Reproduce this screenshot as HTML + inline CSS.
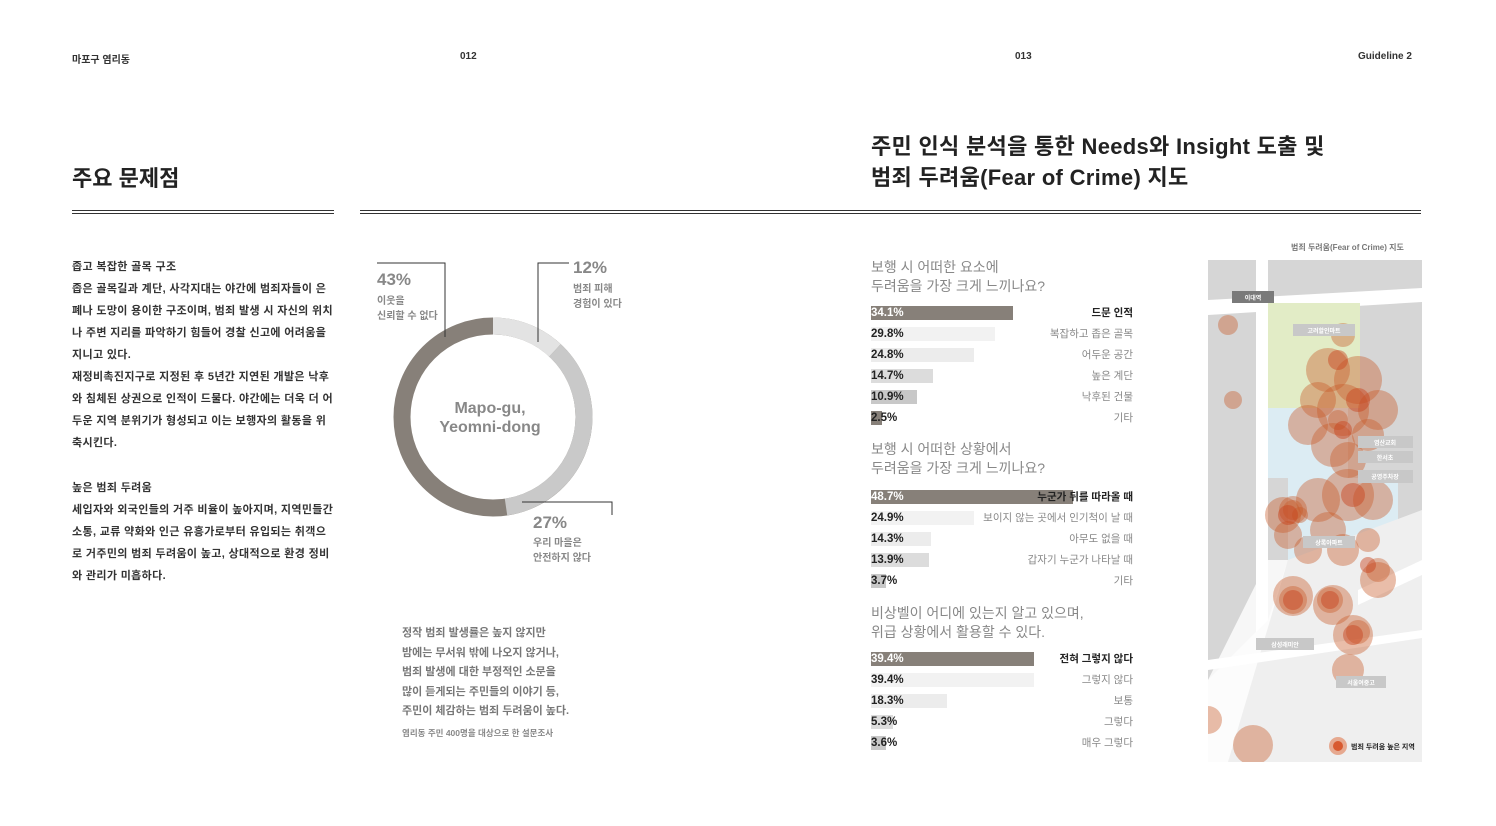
<!DOCTYPE html>
<html><head><meta charset="utf-8"><style>
body{margin:0;width:1496px;height:826px;background:#fff;position:relative;overflow:hidden;font-family:"Liberation Sans","Noto Sans CJK KR",sans-serif;color:#222}
.a{position:absolute;white-space:nowrap}
.hd{font-size:10px;font-weight:bold;color:#333}
.t1{font-size:22px;font-weight:bold;color:#222;line-height:31px}
.body{font-size:11px;font-weight:bold;line-height:22px;color:#333;letter-spacing:0.35px}
.q{font-size:14px;color:#888;line-height:19px}
.row{position:absolute;left:871px;width:262px;height:14px}
.row .b{position:absolute;left:0;top:0;height:14px}
.row .p{position:absolute;left:0;top:0;line-height:14px;font-size:11.5px;font-weight:bold;color:#222}
.row .l{position:absolute;right:0;top:0;line-height:14px;font-size:10.5px;color:#888}
</style></head><body>
<div class="a hd" style="left:72px;top:51px">마포구 염리동</div>
<div class="a hd" style="left:460px;top:51px">012</div>
<div class="a hd" style="left:1015px;top:51px">013</div>
<div class="a hd" style="left:1358px;top:51px">Guideline 2</div>

<div class="a t1" style="left:72px;top:163px">주요 문제점</div>
<div class="a t1" style="left:871px;top:131px;letter-spacing:0.3px">주민 인식 분석을 통한 Needs와 Insight 도출 및<br>범죄 두려움(Fear of Crime) 지도</div>

<div class="a" style="left:72px;top:210px;width:262px;height:1px;background:#333"></div>
<div class="a" style="left:72px;top:213px;width:262px;height:1px;background:#333"></div>
<div class="a" style="left:360px;top:210px;width:1061px;height:1px;background:#333"></div>
<div class="a" style="left:360px;top:213px;width:1061px;height:1px;background:#333"></div>

<div class="a body" style="left:72px;top:256px;width:262px;white-space:normal">좁고 복잡한 골목 구조<br>좁은 골목길과 계단, 사각지대는 야간에 범죄자들이 은폐나 도망이 용이한 구조이며, 범죄 발생 시 자신의 위치나 주변 지리를 파악하기 힘들어 경찰 신고에 어려움을 지니고 있다.<br>재정비촉진지구로 지정된 후 5년간 지연된 개발은 낙후와 침체된 상권으로 인적이 드물다. 야간에는 더욱 더 어두운 지역 분위기가 형성되고 이는 보행자의 활동을 위축시킨다.</div>
<div class="a body" style="left:72px;top:477px;width:262px;white-space:normal">높은 범죄 두려움<br>세입자와 외국인들의 거주 비율이 높아지며, 지역민들간 소통, 교류 약화와 인근 유흥가로부터 유입되는 취객으로 거주민의 범죄 두려움이 높고, 상대적으로 환경 정비와 관리가 미흡하다.</div>

<svg class="a" style="left:360px;top:250px" width="280" height="340">
<g transform="translate(133,167)" fill="none" stroke-width="17">
<circle r="91" stroke="#878079"/>
<path d="M0,-91 A91,91 0 0 1 62,-66.6" stroke="#e3e3e3"/>
<path d="M62,-66.6 A91,91 0 0 1 13,90" stroke="#c9c9c9"/>
</g>
<polyline points="17,13 85,13 85,87" fill="none" stroke="#333" stroke-width="1"/>
<polyline points="209,13 178,13 178,92" fill="none" stroke="#333" stroke-width="1"/>
<polyline points="162,252 252,252 252,265" fill="none" stroke="#333" stroke-width="1"/>
<text x="130" y="163" text-anchor="middle" font-size="16" font-weight="bold" fill="#888">Mapo-gu,</text>
<text x="130" y="182" text-anchor="middle" font-size="16" font-weight="bold" fill="#888">Yeomni-dong</text>
</svg>
<div class="a" style="left:377px;top:270px;font-size:17px;font-weight:bold;color:#888">43%</div>
<div class="a" style="left:377px;top:294px;font-size:10px;font-weight:bold;color:#888;line-height:15px">이웃을<br>신뢰할 수 없다</div>
<div class="a" style="left:573px;top:258px;font-size:17px;font-weight:bold;color:#888">12%</div>
<div class="a" style="left:573px;top:282px;font-size:10px;font-weight:bold;color:#888;line-height:15px">범죄 피해<br>경험이 있다</div>
<div class="a" style="left:533px;top:513px;font-size:17px;font-weight:bold;color:#888">27%</div>
<div class="a" style="left:533px;top:536px;font-size:10px;font-weight:bold;color:#888;line-height:15px">우리 마을은<br>안전하지 않다</div>

<div class="a" style="left:402px;top:624px;font-size:11px;font-weight:bold;color:#777;line-height:19.5px">정작 범죄 발생률은 높지 않지만<br>밤에는 무서워 밖에 나오지 않거나,<br>범죄 발생에 대한 부정적인 소문을<br>많이 듣게되는 주민들의 이야기 등,<br>주민이 체감하는 범죄 두려움이 높다.</div>
<div class="a" style="left:402px;top:727px;font-size:8.5px;font-weight:bold;color:#888">염리동 주민 400명을 대상으로 한 설문조사</div>

<div class="a q" style="left:871px;top:258px">보행 시 어떠한 요소에<br>두려움을 가장 크게 느끼나요?</div>
<div class="row" style="top:306px"><div class="b" style="width:142px;background:#878079"></div><span class="p" style="color:#fff">34.1%</span><span class="l" style="color:#222;font-weight:bold">드문 인적</span></div>
<div class="row" style="top:327px"><div class="b" style="width:124px;background:#f2f2f2"></div><span class="p">29.8%</span><span class="l">복잡하고 좁은 골목</span></div>
<div class="row" style="top:348px"><div class="b" style="width:103px;background:#ececec"></div><span class="p">24.8%</span><span class="l">어두운 공간</span></div>
<div class="row" style="top:369px"><div class="b" style="width:62px;background:#dcdcdc"></div><span class="p">14.7%</span><span class="l">높은 계단</span></div>
<div class="row" style="top:390px"><div class="b" style="width:46px;background:#c8c8c8"></div><span class="p">10.9%</span><span class="l">낙후된 건물</span></div>
<div class="row" style="top:411px"><div class="b" style="width:11px;background:#878079"></div><span class="p">2.5%</span><span class="l">기타</span></div>

<div class="a q" style="left:871px;top:440px">보행 시 어떠한 상황에서<br>두려움을 가장 크게 느끼나요?</div>
<div class="row" style="top:490px"><div class="b" style="width:202px;background:#878079"></div><span class="p" style="color:#fff">48.7%</span><span class="l" style="color:#222;font-weight:bold">누군가 뒤를 따라올 때</span></div>
<div class="row" style="top:511px"><div class="b" style="width:103px;background:#f2f2f2"></div><span class="p">24.9%</span><span class="l">보이지 않는 곳에서 인기척이 날 때</span></div>
<div class="row" style="top:532px"><div class="b" style="width:60px;background:#ececec"></div><span class="p">14.3%</span><span class="l">아무도 없을 때</span></div>
<div class="row" style="top:553px"><div class="b" style="width:58px;background:#dcdcdc"></div><span class="p">13.9%</span><span class="l">갑자기 누군가 나타날 때</span></div>
<div class="row" style="top:574px"><div class="b" style="width:15px;background:#c8c8c8"></div><span class="p">3.7%</span><span class="l">기타</span></div>

<div class="a q" style="left:871px;top:604px">비상벨이 어디에 있는지 알고 있으며,<br>위급 상황에서 활용할 수 있다.</div>
<div class="row" style="top:652px"><div class="b" style="width:163px;background:#878079"></div><span class="p" style="color:#fff">39.4%</span><span class="l" style="color:#222;font-weight:bold">전혀 그렇지 않다</span></div>
<div class="row" style="top:673px"><div class="b" style="width:163px;background:#f2f2f2"></div><span class="p">39.4%</span><span class="l">그렇지 않다</span></div>
<div class="row" style="top:694px"><div class="b" style="width:76px;background:#ececec"></div><span class="p">18.3%</span><span class="l">보통</span></div>
<div class="row" style="top:715px"><div class="b" style="width:22px;background:#dcdcdc"></div><span class="p">5.3%</span><span class="l">그렇다</span></div>
<div class="row" style="top:736px"><div class="b" style="width:15px;background:#c8c8c8"></div><span class="p">3.6%</span><span class="l">매우 그렇다</span></div>

<div class="a" style="left:1291px;top:242px;font-size:8px;font-weight:bold;color:#777">범죄 두려움(Fear of Crime) 지도</div>
<svg class="a" style="left:1208px;top:260px" width="214" height="502">
<rect width="214" height="502" fill="#d6d6d6"/>
<path d="M0,40 L214,28 L214,42 L0,55Z" fill="#fff"/>
<path d="M48,0 L60,0 L60,502 L48,502Z" fill="#fff"/>
<rect x="60" y="43" width="92" height="105" fill="#e2ecc6"/>
<rect x="60" y="148" width="80" height="70" fill="#dcecf3"/>
<rect x="80" y="218" width="110" height="85" fill="#dcecf3"/>
<path d="M80,300 L214,250 L214,502 L0,502 L0,420 L60,360Z" fill="#efefef"/>
<path d="M40,340 L60,300 L80,300 L20,502 L0,502 L0,420Z" fill="#fff" opacity=".8"/>
<path d="M150,330 L214,300 L214,315 L150,345Z" fill="#fff"/>
<path d="M0,400 L214,370 L214,378 L0,410Z" fill="#fff"/>
<g fill="#c85a28" fill-opacity=".4">
<circle cx="120" cy="110" r="22"/><circle cx="150" cy="120" r="24"/><circle cx="170" cy="150" r="20"/>
<circle cx="135" cy="150" r="26"/><circle cx="110" cy="140" r="18"/><circle cx="100" cy="165" r="20"/>
<circle cx="125" cy="185" r="22"/><circle cx="140" cy="200" r="18"/><circle cx="160" cy="175" r="16"/>
<circle cx="75" cy="255" r="18"/><circle cx="85" cy="250" r="14"/><circle cx="110" cy="240" r="22"/>
<circle cx="140" cy="235" r="26"/><circle cx="165" cy="240" r="20"/><circle cx="80" cy="275" r="14"/>
<circle cx="120" cy="270" r="18"/><circle cx="100" cy="290" r="14"/><circle cx="160" cy="280" r="12"/>
<circle cx="85" cy="336" r="20"/><circle cx="85" cy="340" r="14"/><circle cx="125" cy="345" r="20"/>
<circle cx="122" cy="340" r="13"/><circle cx="145" cy="375" r="20"/><circle cx="150" cy="372" r="12"/>
<circle cx="170" cy="310" r="12"/><circle cx="170" cy="320" r="18"/><circle cx="135" cy="290" r="16"/>
<circle cx="140" cy="410" r="16"/><circle cx="45" cy="485" r="20"/><circle cx="0" cy="460" r="14"/>
<circle cx="20" cy="65" r="10"/><circle cx="25" cy="140" r="9"/><circle cx="135" cy="75" r="12"/>
<circle cx="85" cy="250" r="10"/><circle cx="92" cy="255" r="8"/><circle cx="130" cy="160" r="10"/>
</g>
<g fill="#c8401a" fill-opacity=".45">
<circle cx="130" cy="100" r="10"/><circle cx="150" cy="140" r="12"/><circle cx="135" cy="170" r="9"/>
<circle cx="145" cy="235" r="12"/><circle cx="80" cy="255" r="10"/><circle cx="85" cy="340" r="10"/><circle cx="122" cy="340" r="9"/><circle cx="145" cy="375" r="10"/><circle cx="160" cy="305" r="8"/>
</g>
<g font-size="6" font-weight="bold" fill="#fff" text-anchor="middle">
<rect x="24" y="31" width="42" height="12" fill="#7a7a7a"/><text x="45" y="40">이대역</text>
<rect x="85" y="64" width="62" height="12" fill="#c8c8c8"/><text x="116" y="73">고려할인마트</text>
<rect x="150" y="176" width="55" height="12" fill="#c8c8c8"/><text x="177" y="185">염산교회</text>
<rect x="150" y="191" width="55" height="12" fill="#c8c8c8"/><text x="177" y="200">한서초</text>
<rect x="150" y="210" width="55" height="13" fill="#c8c8c8"/><text x="177" y="219">공영주차장</text>
<rect x="95" y="276" width="52" height="12" fill="#c8c8c8"/><text x="121" y="285">상록아파트</text>
<rect x="48" y="378" width="58" height="12" fill="#c8c8c8"/><text x="77" y="387">삼성래미안</text>
<rect x="128" y="416" width="50" height="12" fill="#c8c8c8"/><text x="153" y="425">서울여중고</text>
</g>
<circle cx="130" cy="486" r="9" fill="#e07a50" opacity=".6"/><circle cx="130" cy="486" r="5" fill="#d85a30"/>
<text x="143" y="489" font-size="7" font-weight="bold" fill="#222">범죄 두려움 높은 지역</text>
</svg>
</body></html>
